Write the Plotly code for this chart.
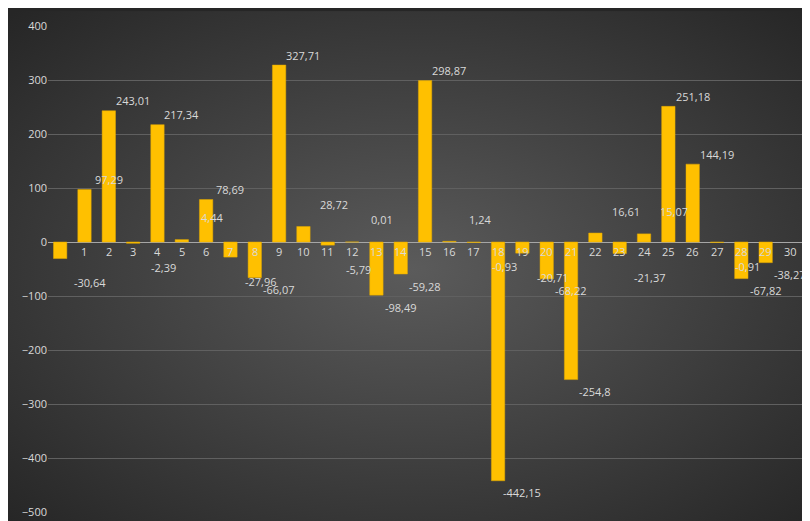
import plotly.graph_objects as go
import base64

categories = [str(i) for i in range(1, 31)]
values = [-30.64, 97.29, 243.01, -2.39, 217.34, 4.44, 78.69, -27.96, -66.07, 327.71,
          28.72, -5.79, 0.01, -98.49, -59.28, 298.87, 1.24, -0.93, -442.15, -20.71,
          -68.22, -254.8, 16.61, -21.37, 15.07, 251.18, 144.19, -0.91, -67.82, -38.27]
labels = [f"{v:g}".replace(".", ",") for v in values]

svg = ('<svg xmlns="http://www.w3.org/2000/svg" width="810" height="521">'
       '<defs><radialGradient id="g" cx="50%" cy="50%" r="70%">'
       '<stop offset="0%" stop-color="#5b5b5b"/><stop offset="100%" stop-color="#262626"/>'
       '</radialGradient></defs><rect width="810" height="521" fill="url(#g)"/></svg>')
uri = "data:image/svg+xml;base64," + base64.b64encode(svg.encode()).decode()

fig = go.Figure(go.Bar(
    x=categories, y=values,
    marker=dict(color="#FFC000", line=dict(color="#E0A800", width=0.5)),
    hoverinfo="skip"))

ann = []
for c, v, t in zip(categories, values, labels):
    small = abs(v) < 35
    if v >= 0:
        ys = 10 if not small else 22
    else:
        ys = -12 - (12 if small else 0)
    ann.append(dict(x=c, y=v, text=t, showarrow=False, yshift=ys,
                    xshift=6 if small else 0,
                    font=dict(color="#d9d9d9", size=11)))
    ann.append(dict(x=c, y=0, text=c, showarrow=False, yshift=-9,
                    font=dict(color="#d9d9d9", size=11)))

ml, mr, mt, mb = 40, 10, 15, 16
pw, ph = 810 - ml - mr, 521 - mt - mb
fig.update_layout(
    width=810, height=521,
    margin=dict(l=ml, r=mr, t=mt, b=mb),
    paper_bgcolor="#262626", plot_bgcolor="rgba(0,0,0,0)",
    bargap=0.45, showlegend=False,
    font=dict(family="Open Sans, sans-serif"),
    images=[dict(source=uri, xref="paper", yref="paper",
                 x=-ml / pw, y=1 + mt / ph, sizex=810 / pw, sizey=521 / ph,
                 sizing="stretch", layer="below", xanchor="left", yanchor="top")],
    xaxis=dict(type="category", showticklabels=False, showgrid=False, zeroline=False),
    yaxis=dict(range=[-500, 400], dtick=100, gridcolor="#606060", zeroline=True,
               zerolinecolor="#a6a6a6", zerolinewidth=1,
               tickfont=dict(color="#d9d9d9", size=11), ticks=""),
    annotations=ann)
fig.write_html("out.html")
